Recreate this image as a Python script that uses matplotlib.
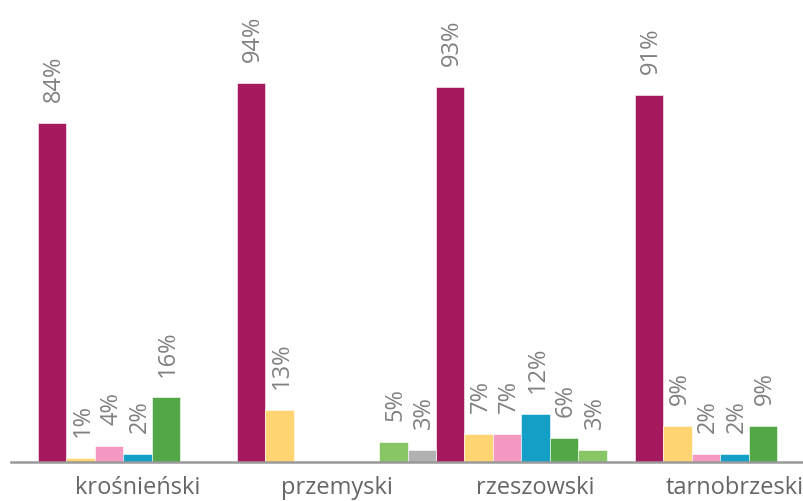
import numpy as np
import matplotlib
matplotlib.use("Agg")
import matplotlib.pyplot as plt

# regions (x axis categories)
regions = ["krośnieński", "przemyski", "rzeszowski", "tarnobrzeski"]

# one list per bar colour, np.nan = no bar
magenta    = [84, 94, 93, 91]
yellow     = [1, 13, 7, 9]
pink       = [4, np.nan, 7, 2]
blue       = [2, np.nan, 12, 2]
green      = [16, np.nan, 6, 9]
lightgreen = [np.nan, 5, 3, np.nan]
grey       = [np.nan, 3, np.nan, np.nan]

series = [magenta, yellow, pink, blue, green, lightgreen, grey]
colors = ["#A5195F", "#FFD572", "#F49AC2", "#139FC6", "#52A847", "#86C665", "#B1B1B3"]

plt.rcParams['font.family'] = ['Open Sans', 'DejaVu Sans']

fig = plt.figure(figsize=(8.04, 5.01), dpi=100)
ax = fig.add_axes([11/804, 39/501, 793/804, 460/501])

nslots = len(series)
w = 1.0 / nslots
x = np.arange(len(regions))

for k, (vals, col) in enumerate(zip(series, colors)):
    pos = x - 0.5 + (k + 0.5) * w
    vals = np.array(vals, dtype=float)
    ax.bar(pos, np.nan_to_num(vals), width=w, color=col, edgecolor="white", linewidth=0.4)
    for p, v in zip(pos, vals):
        if np.isnan(v):
            continue
        ax.annotate("%d%%" % v, (p, v), xytext=(1.5, 15), textcoords="offset points",
                    rotation=90, ha="center", va="bottom", color="#808080", fontsize=17)

ax.set_xlim(-0.636, 3.349)
ax.set_ylim(0, 114)
ax.set_yticks([])
ax.set_xticks(x)
ax.set_xticklabels(regions, fontsize=17, color="#666666")
ax.tick_params(axis="x", length=0, pad=10)
for s in ["top", "right", "left"]:
    ax.spines[s].set_visible(False)
ax.spines["bottom"].set_color("#999999")
ax.spines["bottom"].set_linewidth(1.8)

fig.savefig("out.png", dpi=100)
